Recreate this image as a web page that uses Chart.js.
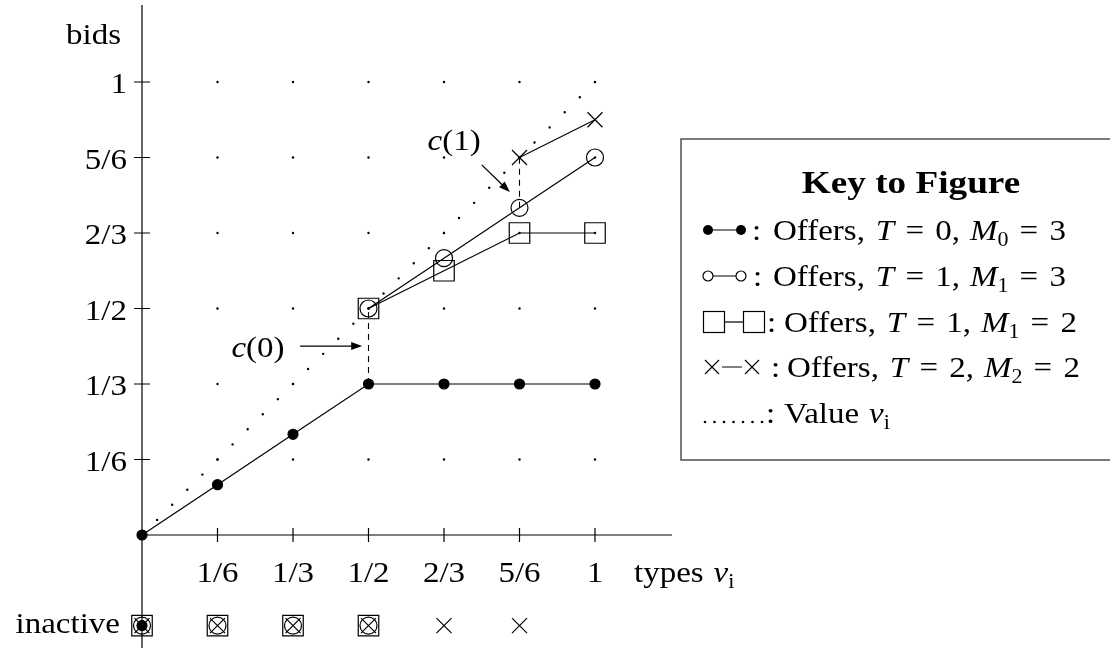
<!DOCTYPE html>
<html>
<head>
<meta charset="utf-8">
<script src="https://cdn.jsdelivr.net/npm/chart.js@4.4.0/dist/chart.umd.min.js"></script>
<style>
  html, body { margin: 0; padding: 0; background: #fff; }
</style>
</head>
<body>
<canvas id="fig" width="1110" height="648"></canvas>
<script>
// ---- data ----
var tickValues = [1/6, 1/3, 1/2, 2/3, 5/6, 1];
var tickLabels = ['1/6', '1/3', '1/2', '2/3', '5/6', '1'];

var typesT0 = [0, 1/6, 1/3, 1/2, 2/3, 5/6, 1];
var offersT0 = [0, 1/9, 2/9, 1/3, 1/3, 1/3, 1/3];

var typesT1 = [1/2, 2/3, 5/6, 1];
var offersT1M3 = [1/2, 11/18, 13/18, 5/6];
var offersT1M2 = [1/2, 7/12, 2/3, 2/3];

var typesT2 = [5/6, 1];
var offersT2 = [5/6, 11/12];

var valueLine = [0, 1];

// types that do not bid (bottom row)
var inactiveT0 = [0];
var inactiveT1 = [0, 1/6, 1/3, 1/2];
var inactiveT2 = [0, 1/6, 1/3, 1/2, 2/3, 5/6];

// ---- layout ----
var W = 1110, H = 648;
var ORIGIN_X = 142, ORIGIN_Y = 535, UNIT = 453;
var X_MIN = -0.3, X_MAX = 1.2, Y_MIN = -0.24, Y_MAX = 1.16;
var AXIS_END = 1.17;
var INACTIVE_ROW = -0.2;
var FONT = '"Liberation Serif", "Times New Roman", serif';
var FS = 30;
var STRETCH = 1.1;

function pts(xs, ys) {
  return xs.map(function(x, i) { return {x: x, y: ys[i]}; });
}
function row(xs) {
  return xs.map(function(x) { return {x: x, y: INACTIVE_ROW}; });
}
var gridDots = [];
tickValues.forEach(function(gx) {
  tickValues.forEach(function(gy) { gridDots.push({x: gx, y: gy}); });
});

var black = '#000';
function marks(data, style, radius, fill, line) {
  return {
    data: data,
    showLine: !!line,
    borderColor: black,
    borderWidth: 1.2,
    pointStyle: style,
    pointRadius: radius,
    pointBorderWidth: 1.2,
    pointBackgroundColor: fill,
    pointBorderColor: black,
    clip: false
  };
}

var datasets = [
  marks(pts(typesT0, offersT0), 'circle', 5, black, true),
  marks(row(inactiveT0), 'circle', 5, black, false),
  marks(pts(typesT2, offersT2), 'crossRot', 10.6, 'transparent', true),
  marks(row(inactiveT2), 'crossRot', 10.6, 'transparent', false),
  marks(pts(typesT1, offersT1M3), 'circle', 8.5, 'transparent', true),
  marks(row(inactiveT1), 'circle', 8.5, 'transparent', false),
  marks(pts(typesT1, offersT1M2), 'rect', 14.5, 'transparent', true),
  marks(row(inactiveT1), 'rect', 14.5, 'transparent', false),
  // dashed jumps c(0) and c(1)
  {
    data: [{x: typesT1[0], y: offersT0[3]}, {x: typesT1[0], y: offersT1M3[0]}],
    showLine: true, borderColor: black, borderWidth: 1.1, borderDash: [6, 5],
    pointRadius: 0, clip: false
  },
  {
    data: [{x: typesT2[0], y: offersT1M3[2]}, {x: typesT2[0], y: offersT2[0]}],
    showLine: true, borderColor: black, borderWidth: 1.1, borderDash: [6, 5],
    pointRadius: 0, clip: false
  },
  // value v_i (dotted)
  {
    data: pts(valueLine, valueLine),
    showLine: true, borderColor: black, borderWidth: 2.4, borderDash: [0, 21.35],
    borderCapStyle: 'round', pointRadius: 0, clip: false
  },
  // background dot grid
  {
    data: gridDots, showLine: false, pointRadius: 1.2, pointBorderWidth: 0,
    pointBackgroundColor: black, clip: false
  }
];

// text helpers
function fontOf(kind, fs) {
  if (kind === 'it') return 'italic ' + fs + 'px ' + FONT;
  if (kind === 'sub') return Math.round(fs * 0.68) + 'px ' + FONT;
  if (kind === 'bf') return 'bold ' + fs + 'px ' + FONT;
  return fs + 'px ' + FONT;
}
function runsWidth(ctx, runs, fs, st) {
  var w = 0;
  runs.forEach(function(r) {
    if (typeof r === 'number') { w += r * fs; return; }
    ctx.font = fontOf(r[1], fs);
    w += ctx.measureText(r[0]).width;
  });
  return w * st;
}
// runs: ['text', kind] or a number (gap in em)
function drawRuns(ctx, runs, x, y, align, fs, st) {
  fs = fs || FS; st = st || STRETCH;
  var w = runsWidth(ctx, runs, fs, st);
  if (align === 'center') x -= w / 2;
  if (align === 'right') x -= w;
  ctx.save();
  ctx.translate(x, y);
  ctx.scale(st, 1);
  ctx.fillStyle = black;
  ctx.textAlign = 'left';
  ctx.textBaseline = 'alphabetic';
  var cx = 0;
  runs.forEach(function(r) {
    if (typeof r === 'number') { cx += r * fs; return; }
    ctx.font = fontOf(r[1], fs);
    ctx.fillText(r[0], cx, r[1] === 'sub' ? 6 : 0);
    cx += ctx.measureText(r[0]).width;
  });
  ctx.restore();
}

function arrow(ctx, x1, y1, x2, y2) {
  var a = Math.atan2(y2 - y1, x2 - x1), L = 11, Wd = 4;
  ctx.beginPath();
  ctx.moveTo(x1, y1);
  ctx.lineTo(x2 - L * 0.8 * Math.cos(a), y2 - L * 0.8 * Math.sin(a));
  ctx.stroke();
  ctx.beginPath();
  ctx.moveTo(x2, y2);
  ctx.lineTo(x2 - L * Math.cos(a) + Wd * Math.sin(a), y2 - L * Math.sin(a) - Wd * Math.cos(a));
  ctx.lineTo(x2 - L * Math.cos(a) - Wd * Math.sin(a), y2 - L * Math.sin(a) + Wd * Math.cos(a));
  ctx.closePath();
  ctx.fill();
}

var eqGap = 0.34;
function offerRow(t, sub, m) {
  return [['Offers,', 'rm'], 0.33, ['T', 'it'], eqGap, ['=', 'rm'], eqGap, [t + ',', 'rm'], 0.3,
          ['M', 'it'], [sub, 'sub'], eqGap, ['=', 'rm'], eqGap, [m, 'rm']];
}
var legendRows = [
  offerRow('0', '0', '3'),
  offerRow('1', '1', '3'),
  offerRow('1', '1', '2'),
  offerRow('2', '2', '2'),
  [['Value', 'rm'], 0.3, ['v', 'it'], ['i', 'sub']]
];

var figurePlugin = {
  id: 'figure',
  beforeDatasetsDraw: function(chart) {
    var ctx = chart.ctx, sx = chart.scales.x, sy = chart.scales.y;
    var x0 = sx.getPixelForValue(0), y0 = sy.getPixelForValue(0);
    ctx.save();
    ctx.strokeStyle = black;
    ctx.lineWidth = 1.2;
    ctx.beginPath();
    ctx.moveTo(x0, sy.getPixelForValue(AXIS_END));
    ctx.lineTo(x0, H + 2);
    ctx.moveTo(x0, y0);
    ctx.lineTo(sx.getPixelForValue(AXIS_END), y0);
    tickValues.forEach(function(v) {
      var px = sx.getPixelForValue(v), py = sy.getPixelForValue(v);
      ctx.moveTo(px, y0 - 7); ctx.lineTo(px, y0 + 7);
      ctx.moveTo(x0 - 8, py); ctx.lineTo(x0 + 8, py);
    });
    ctx.stroke();
    ctx.restore();
  },
  afterDraw: function(chart) {
    var ctx = chart.ctx, sx = chart.scales.x, sy = chart.scales.y;
    var x0 = sx.getPixelForValue(0), y0 = sy.getPixelForValue(0);
    ctx.save();
    tickValues.forEach(function(v, i) {
      drawRuns(ctx, [[tickLabels[i], 'rm']], sx.getPixelForValue(v), y0 + 47, 'center');
      drawRuns(ctx, [[tickLabels[i], 'rm']], x0 - 15, sy.getPixelForValue(v) + 11, 'right');
    });
    drawRuns(ctx, [['bids', 'rm']], x0 - 21, 44, 'right');
    drawRuns(ctx, [['types', 'rm'], 0.3, ['v', 'it'], ['i', 'sub']], x0 + 492, y0 + 47, 'left');
    drawRuns(ctx, [['inactive', 'rm']], x0 - 22, sy.getPixelForValue(INACTIVE_ROW) + 7, 'right');

    // annotations c(0), c(1)
    ctx.strokeStyle = black; ctx.fillStyle = black; ctx.lineWidth = 1.3;
    arrow(ctx, sx.getPixelForValue(0.349), sy.getPixelForValue(0.417),
               sx.getPixelForValue(0.486), sy.getPixelForValue(0.417));
    arrow(ctx, sx.getPixelForValue(0.750), sy.getPixelForValue(0.817),
               sx.getPixelForValue(0.812), sy.getPixelForValue(0.757));
    drawRuns(ctx, [['c', 'it'], ['(0)', 'rm']], sx.getPixelForValue(0.256), sy.getPixelForValue(0.393), 'center');
    drawRuns(ctx, [['c', 'it'], ['(1)', 'rm']], sx.getPixelForValue(0.689), sy.getPixelForValue(0.850), 'center');

    // key box
    ctx.strokeStyle = '#444'; ctx.lineWidth = 1.4;
    ctx.strokeRect(681, 139, 500, 321);
    drawRuns(ctx, [['Key to Figure', 'bf']], 911, 193, 'center', 31, 1.2);
    var base = [240, 286, 332, 377, 423];
    var textX = [773, 773, 784, 787, 784];
    var colonX = [752, 753, 767, 771, 766];
    ctx.strokeStyle = black; ctx.fillStyle = black; ctx.lineWidth = 1.2;
    base.forEach(function(b, i) {
      var cy = b - 10;
      ctx.beginPath();
      if (i === 0 || i === 1) {
        ctx.moveTo(708, cy); ctx.lineTo(741, cy); ctx.stroke();
        [708, 741].forEach(function(cx) {
          ctx.beginPath(); ctx.arc(cx, cy, 5, 0, Math.PI * 2);
          if (i === 0) ctx.fill(); else { ctx.fillStyle = '#fff'; ctx.fill(); ctx.fillStyle = black; ctx.stroke(); }
        });
      } else if (i === 2) {
        ctx.moveTo(725, cy); ctx.lineTo(743, cy); ctx.stroke();
        [714, 754].forEach(function(cx) { ctx.strokeRect(cx - 10.5, cy - 10.5, 21, 21); });
      } else if (i === 3) {
        ctx.moveTo(722, cy); ctx.lineTo(742, cy);
        [712, 752].forEach(function(cx) {
          ctx.moveTo(cx - 7, cy - 7); ctx.lineTo(cx + 7, cy + 7);
          ctx.moveTo(cx - 7, cy + 7); ctx.lineTo(cx + 7, cy - 7);
        });
        ctx.stroke();
      } else {
        for (var k = 0; k < 7; k++) {
          ctx.beginPath(); ctx.arc(705 + k * 9.5, b - 1, 1.3, 0, Math.PI * 2); ctx.fill();
        }
      }
      drawRuns(ctx, [[':', 'rm']], colonX[i], b, 'left');
      drawRuns(ctx, legendRows[i], textX[i], b, 'left');
    });
    ctx.restore();
  }
};

new Chart(document.getElementById('fig'), {
  type: 'scatter',
  data: { datasets: datasets },
  options: {
    responsive: false,
    animation: false,
    devicePixelRatio: 1,
    events: [],
    layout: {
      autoPadding: false,
      padding: {
        left: ORIGIN_X + X_MIN * UNIT,
        right: W - (ORIGIN_X + X_MAX * UNIT),
        top: ORIGIN_Y - Y_MAX * UNIT,
        bottom: H - (ORIGIN_Y - Y_MIN * UNIT)
      }
    },
    scales: {
      x: { type: 'linear', min: X_MIN, max: X_MAX, display: false },
      y: { type: 'linear', min: Y_MIN, max: Y_MAX, display: false }
    },
    plugins: { legend: { display: false }, tooltip: { enabled: false } },
    elements: { line: { tension: 0 } }
  },
  plugins: [figurePlugin]
});
</script>
</body>
</html>
